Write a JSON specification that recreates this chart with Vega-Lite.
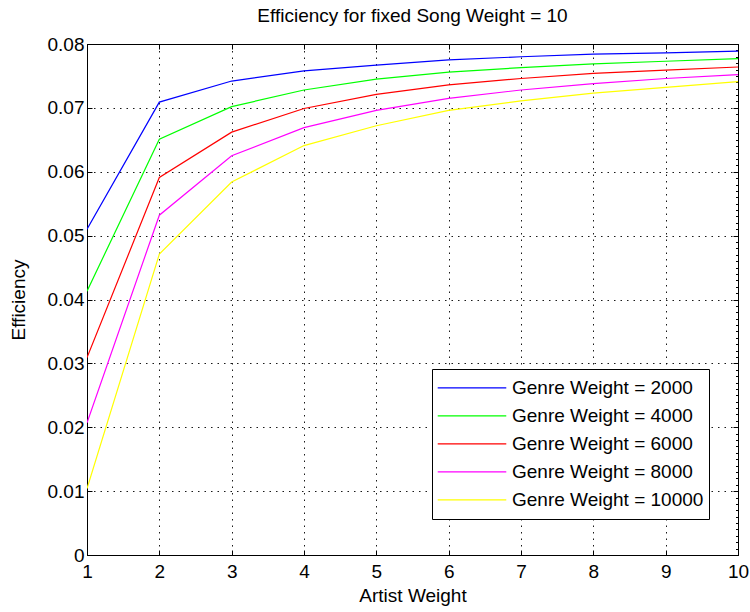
{
  "$schema": "https://vega.github.io/schema/vega-lite/v6.json",
  "width": 651,
  "height": 511,
  "autosize": {"type": "none"},
  "padding": {"left": 87, "top": 44, "right": 12, "bottom": 57},
  "background": "white",
  "title": {
    "text": "Efficiency for fixed Song Weight = 10",
    "font": "Liberation Sans",
    "fontSize": 19,
    "fontWeight": "normal",
    "color": "#000",
    "offset": 9
  },
  "config": {
    "view": {"stroke": "#000", "strokeWidth": 1},
    "font": "Liberation Sans",
    "axis": {
      "labelFont": "Liberation Sans",
      "labelFontSize": 19,
      "labelColor": "#000",
      "labelFlush": false,
      "labelOverlap": false,
      "titleFont": "Liberation Sans",
      "titleFontSize": 19,
      "titleFontWeight": "normal",
      "titleColor": "#000",
      "domainColor": "#000",
      "tickColor": "#000",
      "tickSize": -5,
      "gridColor": "#000",
      "gridDash": [1.5, 5],
      "gridOpacity": 0.9,
      "gridWidth": 1
    }
  },
  "data": {
    "values": [
      {"artist": 1, "series": "Genre Weight = 2000", "eff": 0.0510},
      {"artist": 2, "series": "Genre Weight = 2000", "eff": 0.0709},
      {"artist": 3, "series": "Genre Weight = 2000", "eff": 0.0742},
      {"artist": 4, "series": "Genre Weight = 2000", "eff": 0.0758},
      {"artist": 5, "series": "Genre Weight = 2000", "eff": 0.0767},
      {"artist": 6, "series": "Genre Weight = 2000", "eff": 0.0775},
      {"artist": 7, "series": "Genre Weight = 2000", "eff": 0.0780},
      {"artist": 8, "series": "Genre Weight = 2000", "eff": 0.0784},
      {"artist": 9, "series": "Genre Weight = 2000", "eff": 0.0786},
      {"artist": 10, "series": "Genre Weight = 2000", "eff": 0.0789},

      {"artist": 1, "series": "Genre Weight = 4000", "eff": 0.0413},
      {"artist": 2, "series": "Genre Weight = 4000", "eff": 0.0651},
      {"artist": 3, "series": "Genre Weight = 4000", "eff": 0.0702},
      {"artist": 4, "series": "Genre Weight = 4000", "eff": 0.0728},
      {"artist": 5, "series": "Genre Weight = 4000", "eff": 0.0745},
      {"artist": 6, "series": "Genre Weight = 4000", "eff": 0.0756},
      {"artist": 7, "series": "Genre Weight = 4000", "eff": 0.0763},
      {"artist": 8, "series": "Genre Weight = 4000", "eff": 0.0769},
      {"artist": 9, "series": "Genre Weight = 4000", "eff": 0.0773},
      {"artist": 10, "series": "Genre Weight = 4000", "eff": 0.0777},

      {"artist": 1, "series": "Genre Weight = 6000", "eff": 0.0309},
      {"artist": 2, "series": "Genre Weight = 6000", "eff": 0.0591},
      {"artist": 3, "series": "Genre Weight = 6000", "eff": 0.0662},
      {"artist": 4, "series": "Genre Weight = 6000", "eff": 0.0699},
      {"artist": 5, "series": "Genre Weight = 6000", "eff": 0.0721},
      {"artist": 6, "series": "Genre Weight = 6000", "eff": 0.0736},
      {"artist": 7, "series": "Genre Weight = 6000", "eff": 0.0746},
      {"artist": 8, "series": "Genre Weight = 6000", "eff": 0.0754},
      {"artist": 9, "series": "Genre Weight = 6000", "eff": 0.0759},
      {"artist": 10, "series": "Genre Weight = 6000", "eff": 0.0764},

      {"artist": 1, "series": "Genre Weight = 8000", "eff": 0.0207},
      {"artist": 2, "series": "Genre Weight = 8000", "eff": 0.0532},
      {"artist": 3, "series": "Genre Weight = 8000", "eff": 0.0625},
      {"artist": 4, "series": "Genre Weight = 8000", "eff": 0.0669},
      {"artist": 5, "series": "Genre Weight = 8000", "eff": 0.0696},
      {"artist": 6, "series": "Genre Weight = 8000", "eff": 0.0715},
      {"artist": 7, "series": "Genre Weight = 8000", "eff": 0.0728},
      {"artist": 8, "series": "Genre Weight = 8000", "eff": 0.0738},
      {"artist": 9, "series": "Genre Weight = 8000", "eff": 0.0746},
      {"artist": 10, "series": "Genre Weight = 8000", "eff": 0.0752},

      {"artist": 1, "series": "Genre Weight = 10000", "eff": 0.0104},
      {"artist": 2, "series": "Genre Weight = 10000", "eff": 0.0471},
      {"artist": 3, "series": "Genre Weight = 10000", "eff": 0.0584},
      {"artist": 4, "series": "Genre Weight = 10000", "eff": 0.0641},
      {"artist": 5, "series": "Genre Weight = 10000", "eff": 0.0672},
      {"artist": 6, "series": "Genre Weight = 10000", "eff": 0.0696},
      {"artist": 7, "series": "Genre Weight = 10000", "eff": 0.0711},
      {"artist": 8, "series": "Genre Weight = 10000", "eff": 0.0723},
      {"artist": 9, "series": "Genre Weight = 10000", "eff": 0.0732},
      {"artist": 10, "series": "Genre Weight = 10000", "eff": 0.0741}
    ]
  },
  "layer": [
    {
      "mark": {"type": "line", "strokeWidth": 1.2, "clip": true},
      "encoding": {
        "x": {
          "field": "artist",
          "type": "quantitative",
          "scale": {"domain": [1, 10], "nice": false, "zero": false},
          "axis": {
            "orient": "bottom",
            "title": "Artist Weight",
            "values": [1, 2, 3, 4, 5, 6, 7, 8, 9, 10],
            "grid": true,
            "labelPadding": 12,
            "titlePadding": 5
          }
        },
        "y": {
          "field": "eff",
          "type": "quantitative",
          "scale": {"domain": [0, 0.08], "nice": false},
          "axis": {
            "orient": "left",
            "title": "Efficiency",
            "values": [0, 0.01, 0.02, 0.03, 0.04, 0.05, 0.06, 0.07, 0.08],
            "labelExpr": "datum.value == 0 ? '0' : format(datum.value, '.2f')",
            "grid": true,
            "labelPadding": 8,
            "titlePadding": 19
          }
        },
        "color": {
          "field": "series",
          "type": "nominal",
          "scale": {
            "domain": ["Genre Weight = 2000", "Genre Weight = 4000", "Genre Weight = 6000", "Genre Weight = 8000", "Genre Weight = 10000"],
            "range": ["#0000FF", "#00FF00", "#FF0000", "#FF00FF", "#FFFF00"]
          },
          "legend": {
            "title": null,
            "orient": "none",
            "legendX": 345,
            "legendY": 325,
            "direction": "vertical",
            "symbolType": "stroke",
            "symbolSize": 4700,
            "symbolStrokeWidth": 1.2,
            "clipHeight": 27.7,
            "rowPadding": 0,
            "labelOffset": 5,
            "labelFont": "Liberation Sans",
            "labelFontSize": 19,
            "labelColor": "#000",
            "labelLimit": 400,
            "padding": 5,
            "strokeColor": "#000",
            "fillColor": "#FFFFFF"
          }
        }
      }
    },
    {
      "mark": {"type": "line", "strokeOpacity": 0},
      "encoding": {
        "x": {
          "field": "artist",
          "type": "quantitative",
          "axis": {
            "orient": "top",
            "title": null,
            "values": [1, 2, 3, 4, 5, 6, 7, 8, 9, 10],
            "labels": false,
            "grid": false,
            "domain": false
          }
        },
        "y": {
          "field": "eff",
          "type": "quantitative",
          "axis": {
            "orient": "right",
            "title": null,
            "values": [0, 0.01, 0.02, 0.03, 0.04, 0.05, 0.06, 0.07, 0.08],
            "labels": false,
            "grid": false,
            "domain": false
          }
        },
        "detail": {"field": "series"}
      }
    },
    {
      "mark": {"type": "line", "strokeOpacity": 0},
      "encoding": {
        "x": {"field": "artist", "type": "quantitative", "axis": null},
        "y": {
          "field": "eff",
          "type": "quantitative",
          "axis": {
            "orient": "right",
            "title": null,
            "values": [0.001, 0.002, 0.003, 0.004, 0.005, 0.006, 0.007, 0.008, 0.009, 0.011, 0.012, 0.013, 0.014, 0.015, 0.016, 0.017, 0.018, 0.019, 0.021, 0.022, 0.023, 0.024, 0.025, 0.026, 0.027, 0.028, 0.029, 0.031, 0.032, 0.033, 0.034, 0.035, 0.036, 0.037, 0.038, 0.039, 0.041, 0.042, 0.043, 0.044, 0.045, 0.046, 0.047, 0.048, 0.049, 0.051, 0.052, 0.053, 0.054, 0.055, 0.056, 0.057, 0.058, 0.059, 0.061, 0.062, 0.063, 0.064, 0.065, 0.066, 0.067, 0.068, 0.069, 0.071, 0.072, 0.073, 0.074, 0.075, 0.076, 0.077, 0.078, 0.079],
            "tickSize": -2.5,
            "labels": false,
            "grid": false,
            "domain": false
          }
        },
        "detail": {"field": "series"}
      }
    }
  ],
  "resolve": {"axis": {"x": "independent", "y": "independent"}}
}
